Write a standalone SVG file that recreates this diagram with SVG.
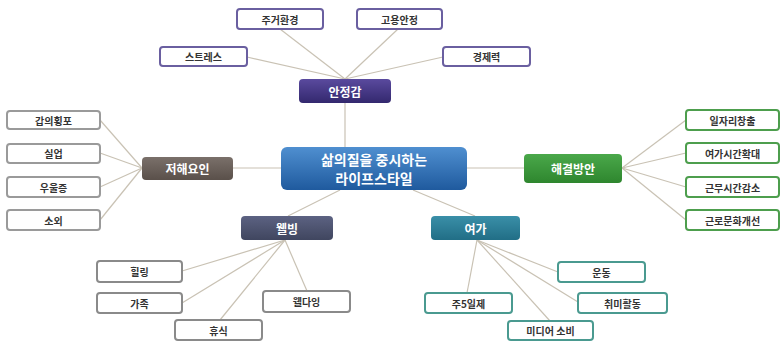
<svg xmlns="http://www.w3.org/2000/svg" width="781" height="341" viewBox="0 0 781 341">
<defs>
<linearGradient id="gCenter" x1="0" y1="0" x2="0" y2="1"><stop offset="0" stop-color="#4f8fd0"/><stop offset="1" stop-color="#1f5a9e"/></linearGradient>
<linearGradient id="gPurple" x1="0" y1="0" x2="0" y2="1"><stop offset="0" stop-color="#5a4a9e"/><stop offset="1" stop-color="#33286e"/></linearGradient>
<linearGradient id="gBrown" x1="0" y1="0" x2="0" y2="1"><stop offset="0" stop-color="#7a706a"/><stop offset="1" stop-color="#5a504a"/></linearGradient>
<linearGradient id="gGreen" x1="0" y1="0" x2="0" y2="1"><stop offset="0" stop-color="#4aa84a"/><stop offset="1" stop-color="#2e862e"/></linearGradient>
<linearGradient id="gSlate" x1="0" y1="0" x2="0" y2="1"><stop offset="0" stop-color="#5c6282"/><stop offset="1" stop-color="#40465f"/></linearGradient>
<linearGradient id="gTeal" x1="0" y1="0" x2="0" y2="1"><stop offset="0" stop-color="#3a8fa8"/><stop offset="1" stop-color="#216e86"/></linearGradient>
</defs>
<style>
text{font-family:"Noto Sans CJK KR","Noto Sans",sans-serif;font-weight:bold;text-anchor:middle;dominant-baseline:central}
.leaf rect{fill:#fff;stroke-width:2}
.leaf text{font-size:10px;fill:#333}
.top rect{stroke:#6a5fa0}
.lft rect{stroke:#9a9a9a}
.rgt rect{stroke:#4d9e4d}
.wel rect{stroke:#8a8a8a}
.yeo rect{stroke:#4a9a90}
.hub text{font-size:12px;fill:#fff}
.ctr text{font-size:14px;fill:#fff}
.conn line{stroke:#c9c2b4;stroke-width:1.2}
</style>
<g id="connectors" class="conn">
<line x1="345" y1="103" x2="345" y2="147"/>
<line x1="345" y1="79" x2="247" y2="57"/>
<line x1="345" y1="79" x2="280" y2="29"/>
<line x1="345" y1="79" x2="398" y2="29"/>
<line x1="345" y1="79" x2="443" y2="57"/>
<line x1="233" y1="168" x2="281" y2="168"/>
<line x1="142" y1="168" x2="100" y2="120"/>
<line x1="142" y1="168" x2="100" y2="153"/>
<line x1="142" y1="168" x2="100" y2="187"/>
<line x1="142" y1="168" x2="100" y2="220"/>
<line x1="467" y1="168" x2="524" y2="168"/>
<line x1="622" y1="168" x2="686" y2="120"/>
<line x1="622" y1="168" x2="686" y2="153"/>
<line x1="622" y1="168" x2="686" y2="187"/>
<line x1="622" y1="168" x2="686" y2="220"/>
<line x1="340" y1="190" x2="288" y2="216"/>
<line x1="413" y1="190" x2="475" y2="216"/>
<line x1="285" y1="240" x2="182" y2="271"/>
<line x1="285" y1="240" x2="182" y2="303"/>
<line x1="285" y1="240" x2="220" y2="320"/>
<line x1="285" y1="240" x2="307" y2="291"/>
<line x1="477" y1="240" x2="467" y2="293"/>
<line x1="477" y1="240" x2="550" y2="321"/>
<line x1="477" y1="240" x2="558" y2="272"/>
<line x1="477" y1="240" x2="578" y2="302"/>
</g>
<g id="center" class="ctr"><rect x="281" y="147" width="186" height="43" rx="6" fill="url(#gCenter)"/><text x="374" y="159">삶의질을 중시하는</text><text x="374" y="178">라이프스타일</text></g>
<g id="anjeong" class="hub"><rect x="299" y="79" width="92" height="24" rx="4" fill="url(#gPurple)"/><text x="345" y="91">안정감</text></g>
<g id="jeohae" class="hub"><rect x="142" y="157" width="91" height="23" rx="4" fill="url(#gBrown)"/><text x="187.5" y="168.5">저해요인</text></g>
<g id="haegyeol" class="hub"><rect x="524" y="154" width="98" height="29" rx="4" fill="url(#gGreen)"/><text x="573" y="168.5">해결방안</text></g>
<g id="wellbeing" class="hub"><rect x="241" y="216" width="92" height="24" rx="4" fill="url(#gSlate)"/><text x="287" y="228">웰빙</text></g>
<g id="yeoga" class="hub"><rect x="431" y="216" width="89" height="24" rx="4" fill="url(#gTeal)"/><text x="475.5" y="228">여가</text></g>
<g id="stress" class="leaf top"><rect x="160" y="47" width="87" height="19" rx="3"/><text x="203.5" y="56.5">스트레스</text></g>
<g id="jugeo" class="leaf top"><rect x="237" y="9" width="86" height="20" rx="3"/><text x="280" y="19">주거환경</text></g>
<g id="goyong" class="leaf top"><rect x="357" y="9" width="85" height="20" rx="3"/><text x="399.5" y="19">고용안정</text></g>
<g id="gyeongje" class="leaf top"><rect x="443" y="47" width="87" height="19" rx="3"/><text x="486.5" y="56.5">경제력</text></g>
<g id="gap" class="leaf lft"><rect x="7" y="111" width="93" height="18" rx="3"/><text x="53.5" y="120">갑의횡포</text></g>
<g id="sileop" class="leaf lft"><rect x="7" y="144" width="93" height="19" rx="3"/><text x="53.5" y="153.5">실업</text></g>
<g id="uul" class="leaf lft"><rect x="7" y="177" width="93" height="20" rx="3"/><text x="53.5" y="187">우울증</text></g>
<g id="soe" class="leaf lft"><rect x="7" y="210" width="93" height="20" rx="3"/><text x="53.5" y="220">소외</text></g>
<g id="iljari" class="leaf rgt"><rect x="686" y="110" width="93" height="20" rx="3"/><text x="732.5" y="120">일자리창출</text></g>
<g id="yeogasigan" class="leaf rgt"><rect x="686" y="143" width="93" height="20" rx="3"/><text x="732.5" y="153">여가시간확대</text></g>
<g id="geunmu" class="leaf rgt"><rect x="686" y="177" width="93" height="20" rx="3"/><text x="732.5" y="187">근무시간감소</text></g>
<g id="geunro" class="leaf rgt"><rect x="686" y="210" width="93" height="20" rx="3"/><text x="732.5" y="220">근로문화개선</text></g>
<g id="healing" class="leaf wel"><rect x="97" y="261" width="85" height="21" rx="3"/><text x="139.5" y="271.5">힐링</text></g>
<g id="gajok" class="leaf wel"><rect x="97" y="293" width="85" height="20" rx="3"/><text x="139.5" y="303">가족</text></g>
<g id="hyusik" class="leaf wel"><rect x="175" y="320" width="87" height="20" rx="3"/><text x="218.5" y="330">휴식</text></g>
<g id="welldying" class="leaf wel"><rect x="263" y="291" width="87" height="21" rx="3"/><text x="306.5" y="301.5">웰다잉</text></g>
<g id="ju5" class="leaf yeo"><rect x="425" y="293" width="87" height="20" rx="3"/><text x="468.5" y="303">주5일제</text></g>
<g id="media" class="leaf yeo"><rect x="508" y="321" width="85" height="19" rx="3"/><text x="550.5" y="330.5">미디어 소비</text></g>
<g id="undong" class="leaf yeo"><rect x="558" y="262" width="87" height="20" rx="3"/><text x="601.5" y="272">운동</text></g>
<g id="chwimi" class="leaf yeo"><rect x="578" y="293" width="89" height="20" rx="3"/><text x="622.5" y="303">취미활동</text></g>
</svg>
